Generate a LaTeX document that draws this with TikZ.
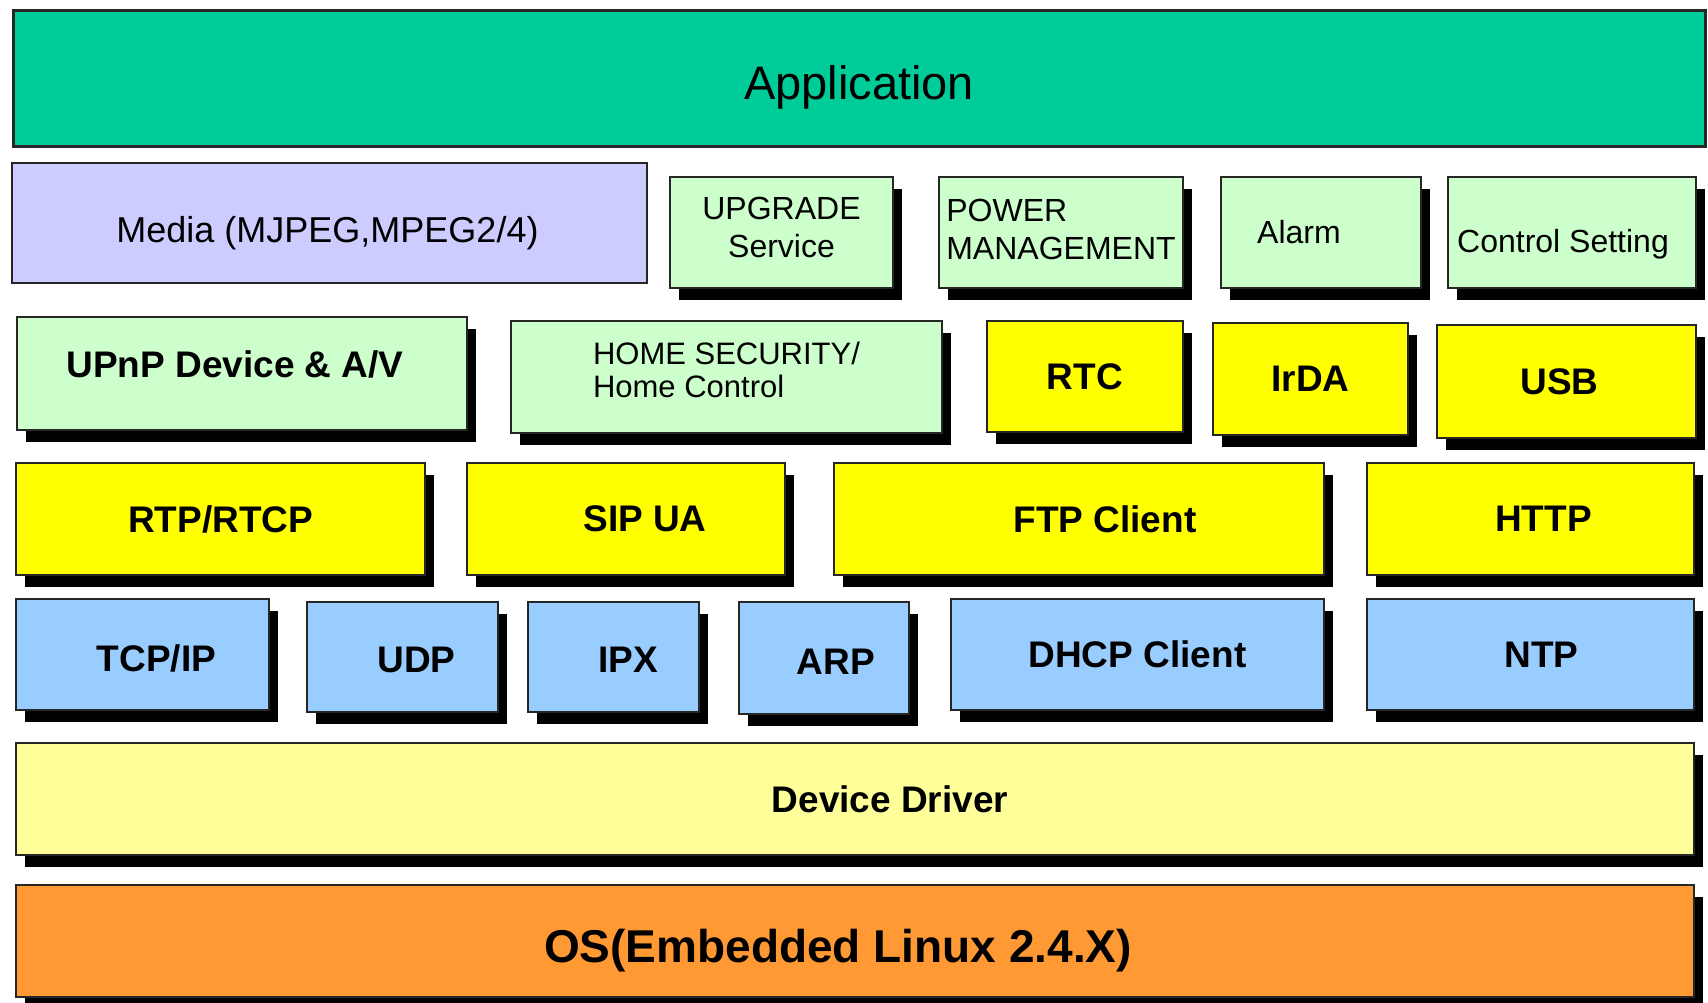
\documentclass[tikz,border=0pt]{standalone}
\usepackage{fontspec}
\setmainfont{Liberation Sans}
\usetikzlibrary{shadows}
\definecolor{appgreen}{HTML}{00CC99}
\definecolor{medialilac}{HTML}{CCCCFF}
\definecolor{servgreen}{HTML}{CCFFCC}
\definecolor{protoyellow}{HTML}{FFFF00}
\definecolor{netblue}{HTML}{99CCFF}
\definecolor{drvyellow}{HTML}{FFFF99}
\definecolor{osorange}{HTML}{FF9933}
% text placed off the box centre: twice the x offset, then the drop
\newcommand{\nudged}[3]{\raisebox{-#2}[\height][\depth]{\hspace*{#1}#3}}
\begin{document}
\begin{tikzpicture}[x=1pt, y=-1pt,
	layer/.style={draw=black!85, line width=1.5pt, rectangle, inner sep=0pt},
	dropblack/.style={drop shadow={shadow xshift=9pt, shadow yshift=-12pt, fill=black, opacity=1}},
	boldtext/.style={font=\fontsize{37}{40}\selectfont\bfseries},
	plaintext/.style={font=\fontsize{32}{38}\selectfont},
	servbox/.style={layer, dropblack, fill=servgreen},
	protobox/.style={layer, dropblack, fill=protoyellow, boldtext},
	netbox/.style={layer, dropblack, fill=netblue, boldtext}]

		\path[use as bounding box, fill=white] (0,0) rectangle (1708,1003);

		\node[layer, fill=appgreen, line width=3pt, minimum width=1692pt, minimum height=136pt, font=\fontsize{47}{50}\selectfont] (app) at (859,79) {\nudged{0pt}{8pt}{Application}};

		\node[layer, fill=medialilac, minimum width=635pt, minimum height=120pt, font=\fontsize{36}{40}\selectfont] (media) at (329.5,223) {\nudged{-4pt}{10pt}{Media (MJPEG,MPEG2/4)}};
		\node[servbox, plaintext, align=center, text depth=10pt, minimum width=223pt, minimum height=111pt] (upgrade) at (781.5,232.5) {UPGRADE\\Service};
		\node[servbox, plaintext, align=left, text depth=6pt, minimum width=244pt, minimum height=111pt] (power) at (1061,232.5) {POWER\\MANAGEMENT};
		\node[servbox, plaintext, minimum width=200pt, minimum height=111pt] (alarm) at (1321,232.5) {\nudged{-44pt}{0pt}{Alarm}};
		\node[servbox, plaintext, minimum width=248pt, minimum height=111pt] (ctrl) at (1572,232.5) {\nudged{-18pt}{12pt}{Control Setting}};

		\node[servbox, boldtext, minimum width=450pt, minimum height=113pt] (upnp) at (242,373.5) {\nudged{-14pt}{-9pt}{UPnP Device \& A/V}};
		\node[servbox, align=left, text depth=14pt, font=\fontsize{31}{33}\selectfont, minimum width=431pt, minimum height=112pt] (homesec) at (726.5,377) {HOME SECURITY/\\Home Control};
		\node[protobox, minimum width=196pt, minimum height=111pt] (rtc) at (1085,376.5) {RTC};
		\node[protobox, minimum width=195pt, minimum height=112pt] (irda) at (1310.5,379) {IrDA};
		\node[protobox, minimum width=259pt, minimum height=113pt] (usb) at (1566.5,381.5) {\nudged{-14pt}{0pt}{USB}};

		\node[protobox, minimum width=409pt, minimum height=112pt] (rtp) at (220.5,519) {RTP/RTCP};
		\node[protobox, minimum width=318pt, minimum height=112pt] (sip) at (626,519) {\nudged{38pt}{0pt}{SIP UA}};
		\node[protobox, minimum width=490pt, minimum height=112pt] (ftp) at (1079,519) {\nudged{52pt}{0pt}{FTP Client}};
		\node[protobox, minimum width=327pt, minimum height=112pt] (http) at (1530.5,519) {\nudged{26pt}{0pt}{HTTP}};

		\node[netbox, minimum width=253pt, minimum height=111pt] (tcp) at (142.5,654.5) {\nudged{28pt}{4pt}{TCP/IP}};
		\node[netbox, minimum width=191pt, minimum height=110pt] (udp) at (402.5,657) {\nudged{28pt}{3pt}{UDP}};
		\node[netbox, minimum width=171pt, minimum height=110pt] (ipx) at (613.5,657) {\nudged{30pt}{3pt}{IPX}};
		\node[netbox, minimum width=170pt, minimum height=112pt] (arp) at (824,658) {\nudged{24pt}{4pt}{ARP}};
		\node[netbox, minimum width=373pt, minimum height=111pt] (dhcp) at (1137.5,654.5) {DHCP Client};
		\node[netbox, minimum width=327pt, minimum height=111pt] (ntp) at (1530.5,654.5) {\nudged{22pt}{0pt}{NTP}};

		\node[layer, dropblack, fill=drvyellow, boldtext, minimum width=1678pt, minimum height=112pt] (driver) at (855,799) {\nudged{70pt}{0pt}{Device Driver}};
		\node[layer, dropblack, fill=osorange, font=\fontsize{46}{50}\selectfont\bfseries, minimum width=1678pt, minimum height=112pt] (os) at (855,941) {\nudged{-34pt}{10pt}{OS(Embedded Linux 2.4.X)}};
	\end{tikzpicture}
\end{document}
